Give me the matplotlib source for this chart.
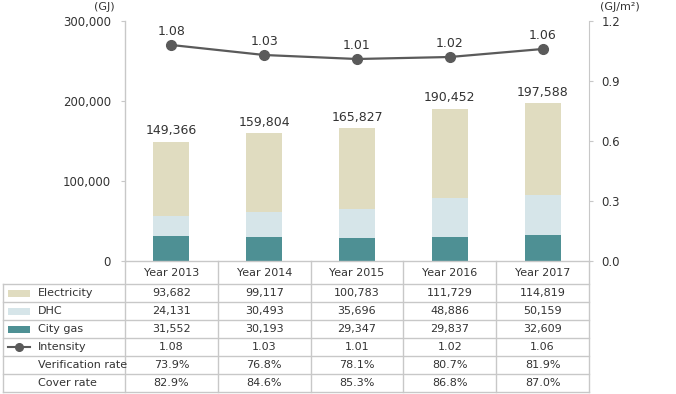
import matplotlib
matplotlib.use("Agg")
import matplotlib.pyplot as plt
from matplotlib.lines import Line2D
from matplotlib.patches import Rectangle
import numpy as np

plt.rcParams['font.family'] = ['DejaVu Sans']

years = ["Year 2013", "Year 2014", "Year 2015", "Year 2016", "Year 2017"]
electricity = [93682, 99117, 100783, 111729, 114819]
dhc = [24131, 30493, 35696, 48886, 50159]
city_gas = [31552, 30193, 29347, 29837, 32609]
totals = [149366, 159804, 165827, 190452, 197588]
intensity = [1.08, 1.03, 1.01, 1.02, 1.06]
verification_rate = ["73.9%", "76.8%", "78.1%", "80.7%", "81.9%"]
cover_rate = ["82.9%", "84.6%", "85.3%", "86.8%", "87.0%"]

C_ELEC = "#e0dcc0"
C_DHC = "#d6e5e9"
C_GAS = "#4e9094"
C_LINE = "#5a5a5a"
C_GRID = "#c8c8c8"
C_TEXT = "#333333"
FS = 8

W, H = 676, 394
fig = plt.figure(figsize=(W / 100, H / 100), dpi=100)

# pixel layout
ax_l, ax_r, ax_t, ax_b = 125, 589, 21, 261
ax = fig.add_axes([ax_l / W, 1 - ax_b / H, (ax_r - ax_l) / W, (ax_b - ax_t) / H])
x = np.arange(len(years))
bw = 0.39
gas = np.array(city_gas)
dh = np.array(dhc)
el = np.array(electricity)
ax.bar(x, gas, bw, color=C_GAS, zorder=2)
ax.bar(x, dh, bw, bottom=gas, color=C_DHC, zorder=2)
ax.bar(x, el, bw, bottom=gas + dh, color=C_ELEC, zorder=2)
for xi, t, top in zip(x, totals, gas + dh + el):
    ax.annotate(f"{t:,}", (xi, top), xytext=(0, 3), textcoords="offset points",
                ha="center", va="bottom", fontsize=9, color=C_TEXT)
ax.set_xlim(-0.5, len(years) - 0.5)
ax.set_ylim(0, 300000)
ax.set_yticks([0, 100000, 200000, 300000])
ax.set_yticklabels([f"{v:,}" for v in [0, 100000, 200000, 300000]])
ax.set_xticks([])
for s in ["top", "right"]:
    ax.spines[s].set_visible(False)
for s in ["left", "bottom"]:
    ax.spines[s].set_color(C_GRID)
    ax.spines[s].set_linewidth(1)
ax.tick_params(axis="y", length=3, color=C_GRID, labelsize=8.5, labelcolor=C_TEXT, pad=7)

ax2 = ax.twinx()
ax2.plot(x, intensity, color=C_LINE, lw=1.6, marker="o", ms=7, zorder=3)
for xi, v in zip(x, intensity):
    ax2.annotate(f"{v:.2f}", (xi, v), xytext=(0, 5), textcoords="offset points",
                 ha="center", va="bottom", fontsize=9, color=C_TEXT)
ax2.set_ylim(0, 1.2)
ax2.set_yticks([0, 0.3, 0.6, 0.9, 1.2])
ax2.set_yticklabels([f"{v:.1f}" for v in [0, 0.3, 0.6, 0.9, 1.2]])
for s in ["top", "left", "bottom"]:
    ax2.spines[s].set_visible(False)
ax2.spines["right"].set_color(C_GRID)
ax2.tick_params(axis="y", length=3, color=C_GRID, labelsize=8.5, labelcolor=C_TEXT, pad=6)

fig.text(104 / W, 1 - 7 / H, "(GJ)", ha="center", va="center", fontsize=FS, color=C_TEXT)
fig.text(600 / W, 1 - 7 / H, "(GJ/m²)", ha="left", va="center", fontsize=FS, color=C_TEXT)

# table overlay in pixel coords
tab = fig.add_axes([0, 0, 1, 1], zorder=5)
tab.set_xlim(0, W)
tab.set_ylim(H, 0)
tab.axis("off")
tab.patch.set_alpha(0)

left_edge = 3
col_edges = np.linspace(ax_l, ax_r, len(years) + 1)
row_edges = [261, 284, 302, 320, 338, 356, 374, 392]
lw = 1
for xe in col_edges:
    tab.add_line(Line2D([xe, xe], [261, row_edges[-1]], color=C_GRID, lw=lw))
tab.add_line(Line2D([left_edge, left_edge], [row_edges[1], row_edges[-1]], color=C_GRID, lw=lw))
for ye in row_edges[1:]:
    tab.add_line(Line2D([left_edge, ax_r], [ye, ye], color=C_GRID, lw=lw))

col_centers = (col_edges[:-1] + col_edges[1:]) / 2
hdr_y = (row_edges[0] + row_edges[1]) / 2
for cx, yr in zip(col_centers, years):
    tab.text(cx, hdr_y, yr, ha="center", va="center", fontsize=FS, color=C_TEXT)

rows = [
    ("Electricity", [f"{v:,}" for v in electricity], "patch", C_ELEC),
    ("DHC", [f"{v:,}" for v in dhc], "patch", C_DHC),
    ("City gas", [f"{v:,}" for v in city_gas], "patch", C_GAS),
    ("Intensity", [f"{v:.2f}" for v in intensity], "line", C_LINE),
    ("Verification rate", verification_rate, None, None),
    ("Cover rate", cover_rate, None, None),
]
for i, (name, vals, kind, col) in enumerate(rows):
    yc = (row_edges[i + 1] + row_edges[i + 2]) / 2
    if kind == "patch":
        tab.add_patch(Rectangle((8, yc - 3.5), 22, 7, color=col, lw=0))
    elif kind == "line":
        tab.add_line(Line2D([8, 30], [yc, yc], color=col, lw=1.5))
        tab.add_line(Line2D([19], [yc], color=col, marker="o", ms=5.5, lw=0))
    tab.text(38, yc, name, ha="left", va="center", fontsize=FS, color=C_TEXT)
    for cx, v in zip(col_centers, vals):
        tab.text(cx, yc, v, ha="center", va="center", fontsize=FS, color=C_TEXT)

fig.savefig("out.png", dpi=100)
